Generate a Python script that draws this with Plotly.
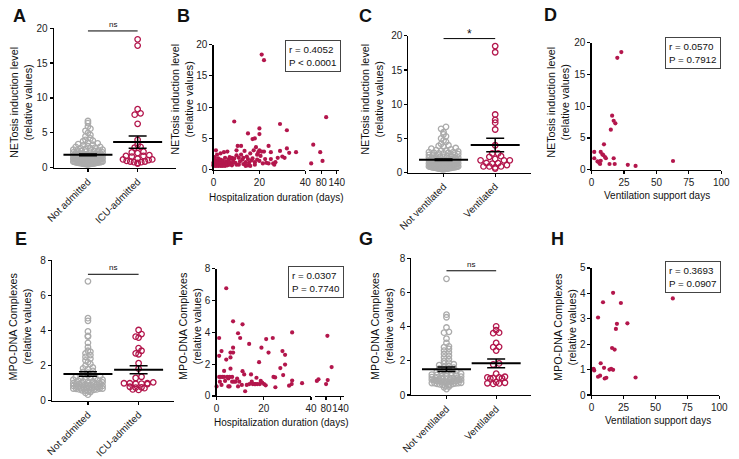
import numpy as np
import plotly.graph_objects as go

W, H = 739, 459
RED = "#b3164c"
GRAY = "#ababab"
FONT = "Liberation Sans, Arial, sans-serif"

# ---------------- DATA ----------------
cat_admit = ["Not admitted", "ICU-admitted"]
cat_vent = ["Not ventilated", "Ventilated"]

net_not_admitted = [6.7, 6.4, 5.9, 5.6, 5.3, 5.0, 4.7, 4.5,
    4.2, 4.0, 3.9, 3.8, 3.6, 3.5, 3.4, 3.3, 3.2, 3.1, 3.0, 3.0,
    2.9, 2.8, 2.8, 2.7, 2.6, 2.6, 2.5, 2.5, 2.4, 2.4, 2.3, 2.3, 2.2, 2.2, 2.1, 2.1, 2.0, 2.0,
    1.95, 1.9, 1.9, 1.85, 1.8, 1.8, 1.75, 1.7, 1.7, 1.65, 1.6, 1.6, 1.55, 1.55, 1.5, 1.5, 1.95, 1.85, 1.75, 1.65,
    1.45, 1.4, 1.4, 1.38, 1.35, 1.3, 1.3, 1.28, 1.25, 1.2, 1.2, 1.18, 1.15, 1.1, 1.1, 1.08, 1.05, 1.05, 1.02,
    1.0, 1.0, 1.42, 1.32, 1.22, 1.12, 1.03, 1.48,
    0.98, 0.95, 0.95, 0.92, 0.9, 0.9, 0.88, 0.85, 0.85, 0.82, 0.8, 0.8, 0.78, 0.75, 0.75, 0.72, 0.7, 0.7,
    0.68, 0.65, 0.65, 0.62, 0.6, 0.6, 0.58, 0.55, 0.55, 0.52, 0.5, 0.5, 0.97, 0.87, 0.77, 0.67, 0.57]
net_icu = [18.4, 17.5, 8.4, 7.8, 7.6, 6.3, 4.0, 3.3, 3.0, 2.9, 2.3, 2.2, 2.1, 1.8, 1.7, 1.7, 1.6,
    1.3, 1.2, 1.2, 1.1, 1.0, 0.9, 0.9, 0.8, 0.8, 0.7, 0.6]

net_not_vent = [6.7, 6.4, 5.9, 5.6, 5.3, 5.0, 4.7, 4.5,
    4.2, 4.0, 3.9, 3.8, 3.6, 3.5, 3.4, 3.3, 3.2, 3.2, 3.1, 3.0, 3.0,
    2.9, 2.9, 2.8, 2.8, 2.7, 2.6, 2.6, 2.5, 2.5, 2.4, 2.4, 2.3, 2.3, 2.2, 2.2, 2.1, 2.1, 2.0, 2.0,
    1.95, 1.9, 1.9, 1.85, 1.8, 1.8, 1.75, 1.7, 1.7, 1.7, 1.65, 1.6, 1.6, 1.55, 1.55, 1.5, 1.5, 1.95, 1.85, 1.75, 1.65,
    1.45, 1.4, 1.4, 1.38, 1.35, 1.3, 1.3, 1.28, 1.25, 1.2, 1.2, 1.2, 1.18, 1.15, 1.1, 1.1, 1.08, 1.05, 1.05, 1.02,
    1.0, 1.0, 1.42, 1.32, 1.22, 1.12, 1.03, 1.48,
    0.98, 0.95, 0.95, 0.92, 0.9, 0.9, 0.88, 0.85, 0.85, 0.82, 0.8, 0.8, 0.78, 0.75, 0.75, 0.72, 0.7, 0.7,
    0.68, 0.65, 0.65, 0.62, 0.6, 0.6, 0.58, 0.55, 0.55, 0.52, 0.5, 0.5, 0.97, 0.87, 0.77, 0.67, 0.57]

hosp_days = [0, 0, 0, 0, 0, 0.5, 0.5, 0.5, 1, 1, 1, 1, 1, 1, 1.5, 1.5, 2, 2, 2, 2, 2, 2.5, 3, 3, 3, 3, 3,
    3.5, 4, 4, 4, 4, 4.5, 5, 5, 5, 5, 5.5, 6, 6, 6, 6, 6.5, 7, 7, 7, 7.5, 8, 8, 8, 8.5, 9, 9, 9.5,
    10, 10, 10, 10.5, 11, 11, 11.5, 12, 12, 12.5, 13, 13, 13.5, 14, 14, 14.5, 15, 15, 15, 15.5, 16, 16,
    16.5, 17, 17, 17.5, 18, 18, 18, 18.5, 19, 19, 19.5, 20, 20, 20, 20, 20.5, 21, 21, 21.5, 22, 22, 22.5,
    23, 24, 24, 25, 25, 26, 26.5, 27, 28, 29, 29, 30, 31, 32, 32, 33, 36, 41, 49, 76, 85, 99]
hosp_net = [0.6, 0.8, 1.0, 1.2, 0.7, 0.9, 1.5, 2.0, 3.1, 0.6, 0.8, 1.1, 1.4, 0.7, 1.0, 2.4, 0.6, 0.9, 1.3, 1.8, 0.7,
    1.1, 0.6, 0.8, 1.0, 2.6, 1.6, 0.7, 0.9, 1.2, 0.6, 1.5, 2.8, 0.8, 1.0, 0.6, 1.9, 1.3, 0.7, 1.1, 2.9, 0.9,
    1.6, 0.8, 1.2, 2.0, 1.8, 1.0, 0.7, 1.9, 1.4, 1.8, 7.7, 1.1, 0.8, 3.1, 2.3, 3.8, 1.9, 0.8, 1.3, 3.8, 2.4,
    1.6, 0.9, 1.9, 3.0, 1.2, 0.6, 2.1, 5.8, 1.7, 0.7, 1.1, 0.6, 2.6, 1.5, 4.9, 1.8, 3.1, 5.0, 1.2, 0.8, 3.6,
    2.4, 1.6, 2.8, 6.6, 5.7, 3.1, 1.4, 2.2, 18.4, 2.9, 1.0, 17.5, 2.9, 1.7, 1.1, 3.8, 1.0, 2.8, 1.7, 1.0,
    0.8, 1.2, 1.9, 7.3, 3.0, 2.1, 1.9, 6.3, 3.4, 2.7, 2.8, 1.0, 4.0, 2.8, 1.4, 8.4]

vent_days_net = [2, 2, 4.5, 5.8, 7, 7, 8.3, 9, 10.3, 9.5, 11, 6.5, 13.8, 14.8, 15.8, 17, 17, 18.3, 17.8,
    19.8, 22.9, 27.9, 33.9, 62.8]
vent_net = [2.8, 1.8, 1.3, 1.1, 1.4, 2.8, 2.4, 2.3, 2.0, 4.0, 1.8, 0.9, 0.9, 6.3, 8.5, 7.7, 1.8, 7.3, 0.9,
    17.6, 18.5, 0.76, 0.6, 1.37]

mpo_not_admitted = [6.8, 4.7, 4.55, 3.95, 3.7, 3.65, 3.3, 3.05, 2.85, 2.8, 2.7, 2.6, 2.5, 2.4, 2.3, 2.2, 2.1,
    2.0, 1.9, 1.85, 1.8, 1.7, 1.65, 1.6, 1.55, 1.5, 1.45, 1.4, 1.35, 1.3, 1.3, 1.25, 1.2, 1.2, 1.15, 1.1,
    1.1, 1.05, 1.0, 1.0, 0.98, 0.95, 0.95, 0.92, 0.9, 0.9, 0.88, 0.85, 0.85, 0.82, 0.8, 0.8, 0.78, 0.75,
    0.75, 0.75, 0.72, 0.7, 0.7, 0.7, 0.68, 0.65, 0.65, 0.62, 0.6, 0.6, 0.58, 0.55, 0.5, 0.45, 0.35,
    1.28, 1.18, 1.08, 0.93, 0.83, 0.73]
mpo_icu = [4.03, 3.8, 3.65, 3.6, 3.0, 2.85, 2.7, 2.65, 2.14, 1.83, 1.37, 1.3, 1.05, 1.0, 1.0, 1.0, 0.98,
    0.97, 0.95, 0.8, 0.77, 0.75, 0.72, 0.65, 0.62]

mpo_not_vent = [6.8, 4.7, 4.55, 3.95, 3.7, 3.65, 3.3, 3.05, 2.85, 2.8, 2.7, 2.6, 2.5, 2.4, 2.3, 2.2, 2.1,
    2.0, 1.9, 1.85, 1.8, 1.75, 1.7, 1.65, 1.6, 1.55, 1.5, 1.45, 1.4, 1.35, 1.3, 1.3, 1.25, 1.2, 1.2, 1.15,
    1.1, 1.1, 1.05, 1.0, 1.0, 0.98, 0.95, 0.95, 0.92, 0.9, 0.9, 0.88, 0.85, 0.85, 0.82, 0.8, 0.8, 0.78,
    0.75, 0.75, 0.75, 0.72, 0.7, 0.7, 0.7, 0.68, 0.65, 0.65, 0.62, 0.6, 0.6, 0.58, 0.55, 0.5, 0.45, 0.35,
    1.28, 1.18, 1.08, 0.93, 0.83, 0.73, 0.76, 0.86]

hosp_days_mpo = [0, 1.1, 1.1, 1.1, 1.4, 2.1, 1.8, 2.1, 2.5, 3.2, 3.2, 3.6, 4.1, 4.1, 4.5, 5, 5, 5.5, 5.5,
    5.9, 5.9, 5.9, 6.6, 6.6, 7, 7, 7, 7.3, 8, 8.7, 9.1, 9.1, 9.6, 10, 10.7, 11, 11, 11.7, 12.1, 12.8,
    13.8, 13.9, 14.6, 14.9, 15.3, 16, 16.6, 16.9, 17.3, 18, 18.3, 18.7, 19, 19.3, 20.1, 20.8, 21, 22,
    23.8, 24.1, 24.8, 24.9, 27, 27.9, 28.2, 29, 29, 30.7, 31.8, 32, 32, 36.2, 41.8, 48.6, 80, 86.8, 85.5, 103]
hosp_mpo = [0.6, 3.65, 2.53, 1.2, 0.9, 2.83, 1.2, 0.7, 1.2, 1.58, 1.2, 0.95, 2.29, 6.78, 1.2, 0.6, 1.1,
    1.2, 0.6, 1.72, 2.43, 2.73, 1.2, 0.9, 4.7, 3.04, 2.73, 0.9, 0.9, 1.1, 3.95, 0.6, 0.9, 3.65, 0.7, 4.51,
    1.56, 1.36, 0.3, 0.7, 3.28, 0.75, 1.36, 0.9, 0.75, 0.75, 0.75, 1.15, 0.75, 2.13, 0.75, 0.95, 3.04,
    0.85, 0.75, 0.67, 3.58, 2.73, 3.65, 1.2, 1.17, 0.55, 1.76, 2.83, 1.32, 2.59, 1.98, 0.65, 0.75, 4.0,
    0.97, 0.81, 0.95, 1.05, 0.75, 1.0, 3.79, 1.82]

vent_days_mpo = [1.5, 2, 5, 5, 6.6, 7.1, 8.9, 9.7, 10.2, 11.5, 14, 15.3, 16, 16.8, 16.8, 18, 19, 19.8,
    22.9, 28, 34.4, 63.6]
vent_mpo = [1.03, 0.97, 3.05, 0.72, 0.76, 1.25, 3.65, 1.07, 0.65, 0.68, 1.0, 1.03, 1.85, 0.99, 4.02, 1.79,
    2.6, 2.8, 3.62, 2.82, 0.69, 3.8]

stats_B = ("0.4052", "&lt; 0.0001")
stats_D = ("0.0570", "= 0.7912")
stats_F = ("0.0307", "= 0.7740")
stats_H = ("0.3693", "= 0.0907")

# ---------------- HELPERS ----------------
fig = go.Figure()


def dx(l, r):
    return [l / W, r / W]


def dy(top, bottom):
    return [1 - bottom / H, 1 - top / H]


def swarm_offsets(vals, ypu, xpu, row_px, step, maxhalf):
    v = np.asarray(vals, float)
    bins = np.floor(v * ypu / row_px).astype(int)
    off = np.zeros(len(v))
    for b in np.unique(bins):
        idx = np.where(bins == b)[0]
        idx = idx[np.argsort(v[idx])]
        n = len(idx)
        sp = step if n < 2 else min(step, 2 * maxhalf / (n - 1))
        slots = (np.arange(n) - (n - 1) / 2) * sp
        order = np.argsort(np.abs(slots) + 1e-6 * np.arange(n), kind="stable")
        off[idx] = slots[order]
    return off / xpu


def cat_panel(xa, ya, gvals, rvals, ypu, xpu):
    for k, (vals, col, rp, st) in enumerate([(gvals, GRAY, 3.2, 5.0), (rvals, RED, 4.4, 6.0)]):
        off = swarm_offsets(vals, ypu, xpu, rp, st, 15)
        fig.add_trace(go.Scatter(x=k + off, y=vals, mode="markers", xaxis=xa, yaxis=ya,
                                 marker=dict(symbol="circle-open", size=5.5, color=col, line=dict(width=1.3)),
                                 cliponaxis=False, hoverinfo="skip", showlegend=False))
    for k, vals in enumerate([gvals, rvals]):
        v = np.asarray(vals, float)
        m = v.mean()
        s = v.std(ddof=1) / np.sqrt(len(v))
        fig.add_trace(go.Scatter(x=[k], y=[m], mode="markers", xaxis=xa, yaxis=ya,
                                 marker=dict(symbol="line-ew", size=35, color="black",
                                             line=dict(width=2, color="black")),
                                 error_y=dict(type="data", array=[s], color="black", thickness=1.5, width=9),
                                 cliponaxis=False, hoverinfo="skip", showlegend=False))


def scatter_trace(xa, ya, xs, ys):
    fig.add_trace(go.Scatter(x=xs, y=ys, mode="markers", xaxis=xa, yaxis=ya,
                             marker=dict(symbol="circle", size=4.2, color=RED),
                             cliponaxis=False, hoverinfo="skip", showlegend=False))


def broken_scatter(xa1, xa2, ya, xs, ys, cut):
    xs = np.asarray(xs, float)
    ys = np.asarray(ys, float)
    m = xs <= cut
    scatter_trace(xa1, ya, xs[m], ys[m])
    scatter_trace(xa2, ya, xs[~m], ys[~m])


# ---------------- TRACES ----------------
cat_panel("x", "y", net_not_admitted, net_icu, 145 / 20, 51)
broken_scatter("x2", "x3", "y2", hosp_days, hosp_net, 40)
cat_panel("x4", "y3", net_not_vent, vent_net, 142 / 20, 53)
scatter_trace("x5", "y4", vent_days_net, vent_net)
cat_panel("x6", "y5", mpo_not_admitted, mpo_icu, 146 / 8, 52)
broken_scatter("x7", "x8", "y6", hosp_days_mpo, hosp_mpo, 40)
cat_panel("x9", "y7", mpo_not_vent, vent_mpo, 142 / 8, 51)
scatter_trace("x10", "y8", vent_days_mpo, vent_mpo)

# ---------------- AXES ----------------
AX = dict(showline=True, linecolor="black", linewidth=1.2, ticks="outside", ticklen=3, tickwidth=1.2,
          tickcolor="black", showgrid=False, zeroline=False, fixedrange=True,
          tickfont=dict(family=FONT, size=10, color="#222"))


def cat_range(left, right, c0, c1):
    u = c1 - c0
    return [(left - c0) / u, (right - c0) / u]


def catx(l, r, c0, c1, anchor, labels):
    return dict(domain=dx(l, r), range=cat_range(l, r, c0, c1), anchor=anchor, tickvals=[0, 1],
                ticktext=labels, tickangle=-45, **AX)


def numx(l, r, rng, anchor, tv):
    return dict(domain=dx(l, r), range=rng, anchor=anchor, tickvals=tv, tickangle=0, **AX)


def numy(top, bottom, rng, anchor, tv):
    return dict(domain=dy(top, bottom), range=rng, anchor=anchor, tickvals=tv, tickangle=0, **AX)


t20 = [0, 5, 10, 15, 20]
t8 = [0, 2, 4, 6, 8]
fig.update_layout(
    xaxis=catx(45, 170, 80, 131, "y", cat_admit),
    yaxis=numy(23, 168, [0, 20], "x", t20),
    xaxis2=numx(209, 303, [0, 40], "y2", [0, 20, 40]),
    xaxis3=numx(307, 338, [33, 150], "y2", [80, 140]),
    yaxis2=numy(40, 170, [0, 20], "x2", t20),
    xaxis4=catx(409, 535, 445, 498, "y3", cat_vent),
    yaxis3=numy(31, 173, [0, 20], "x4", t20),
    xaxis5=numx(597, 730, [0, 100], "y4", [0, 25, 50, 75, 100]),
    yaxis4=numy(38, 170, [0, 20], "x5", t20),
    xaxis6=catx(43, 168, 80, 132, "y5", cat_admit),
    yaxis5=numy(264, 410, [0, 8], "x6", t8),
    xaxis7=numx(212, 309, [0, 40], "y6", [0, 20, 40]),
    xaxis8=numx(313, 343, [34, 155], "y6", [80, 140]),
    yaxis6=numy(273, 405, [0, 8], "x7", t8),
    xaxis9=catx(412, 535, 448, 499, "y7", cat_vent),
    yaxis7=numy(262, 404, [0, 8], "x9", t8),
    xaxis10=numx(597, 728, [0, 100], "y8", [0, 25, 50, 75, 100]),
    yaxis8=numy(272, 404, [0, 5], "x10", [0, 1, 2, 3, 4, 5]),
)

# ---------------- ANNOTATIONS ----------------
ann = []


def ptext(x, y, text, size, bold=False, angle=0, xanchor="center", yanchor="middle", **kw):
    ann.append(dict(x=x / W, y=1 - y / H, xref="paper", yref="paper", text=("<b>%s</b>" % text) if bold else text,
                    showarrow=False, textangle=angle, xanchor=xanchor, yanchor=yanchor,
                    font=dict(family=FONT, size=size, color="#111"), **kw))


for L, x, y in [("A", 10, 10), ("B", 178, 10), ("C", 365, 10), ("D", 555, 9),
                ("E", 11, 242), ("F", 172, 242), ("G", 365, 242), ("H", 562, 242)]:
    ptext(x, y, L, 18, bold=True)

net_lab = "NETosis induction level<br>(relative values)"
mpo_lab = "MPO-DNA Complexes<br>(relative values)"
for x, y, t in [(12, 100, net_lab), (177, 97, net_lab), (372, 97, net_lab), (563, 100, net_lab),
                (10, 333, mpo_lab), (184, 332, mpo_lab), (381, 332, mpo_lab), (569, 333, mpo_lab)]:
    ptext(x, y, t, 10.8, angle=-90)

for x, y, t in [(274, 199, "Hospitalization duration (days)"), (664, 197, "Ventilation support days"),
                (279, 432, "Hospitalization duration (days)"), (665, 430, "Ventilation support days")]:
    ptext(x, y, t, 10)

for x, y, st in [(310.5, 52, stats_B), (701.5, 48.5, stats_D), (314.5, 286.5, stats_F), (701.5, 281, stats_H)]:
    ptext(x, y, "r = %s<br>P %s" % st, 9.8, align="left", bordercolor="#444", borderwidth=1,
          borderpad=3, bgcolor="white")

# significance bars
shapes = []
for xa, ya, yv, lab, fs in [("x", "y", 19.6, "ns", 8), ("x4", "y3", 19.6, "*", 12),
                            ("x6", "y5", 7.2, "ns", 8), ("x9", "y7", 7.27, "ns", 8)]:
    shapes.append(dict(type="line", xref=xa, yref=ya, x0=0, x1=1, y0=yv, y1=yv,
                       line=dict(color="black", width=1)))
    ann.append(dict(x=0.5, y=yv, xref=xa, yref=ya, text=lab, showarrow=False, yanchor="bottom",
                    yshift=0 if lab == "ns" else -4, font=dict(family=FONT, size=fs, color="#111")))

fig.update_layout(annotations=ann, shapes=shapes, width=W, height=H,
                  margin=dict(l=0, r=0, t=0, b=0), paper_bgcolor="white", plot_bgcolor="white",
                  showlegend=False, font=dict(family=FONT))

fig.write_html("out.html", config={"displayModeBar": False, "staticPlot": True},
               post_script="document.body.style.margin='0';document.body.style.padding='0';")
